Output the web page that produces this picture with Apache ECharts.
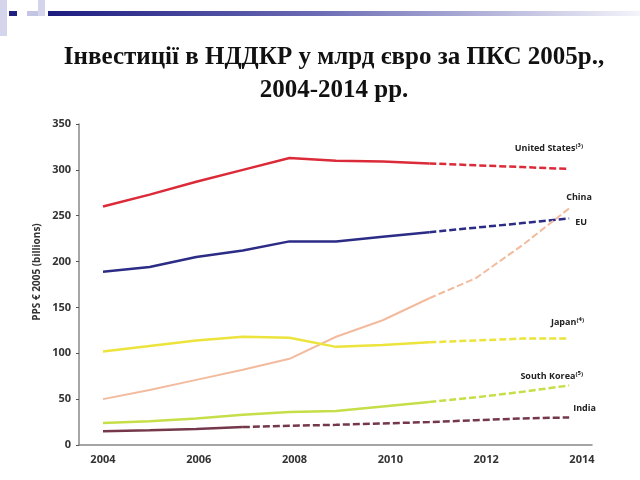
<!DOCTYPE html>
<html>
<head>
<meta charset="utf-8">
<script src="https://cdn.jsdelivr.net/npm/echarts@6/dist/echarts.min.js"></script>
<style>html,body{margin:0;padding:0;background:#fff}#c{width:640px;height:480px}</style>
</head>
<body>
<div id="c"></div>
<script>
const years = [2004, 2005, 2006, 2007, 2008, 2009, 2010, 2011, 2012, 2013, 2014];
const xTickLabels = [2004, 2006, 2008, 2010, 2012, 2014];
const unitedStates = [260, 273, 287, 300, 313, 310, 309, 307, 305, 303, 301];
const eu = [189, 194, 205, 212, 222, 222, 227, 232, 237, 242, 247];
const china = [50, 60, 71, 82, 94, 118, 136, 160, 182, 218, 258];
const japan = [102, 108, 114, 118, 117, 107, 109, 112, 114, 116, 116];
const southKorea = [24, 26, 29, 33, 36, 37, 42, 47, 52, 58, 65];
const india = [15, 16, 17.5, 19.5, 21, 22, 23.5, 25, 27, 29, 30];
const seriesNames = ['United States⁽³⁾', 'EU', 'China', 'Japan⁽⁴⁾', 'South Korea⁽⁵⁾', 'India'];

const defs = [
  {name: seriesNames[0], data: unitedStates, brk: 7, color: '#db2a38', w: 2.5, off: [14, -21], align: 'right'},
  {name: seriesNames[1], data: eu, brk: 7, color: '#2c2c86', w: 2.5, off: [6, 4], align: 'left'},
  {name: seriesNames[2], data: china, brk: 7, color: '#f3bb9e', w: 2, off: [-3, -11], align: 'left'},
  {name: seriesNames[3], data: japan, brk: 7, color: '#ece43c', w: 2.5, off: [15, -16], align: 'right'},
  {name: seriesNames[4], data: southKorea, brk: 7, color: '#c6df48', w: 2.5, off: [14, -9], align: 'right'},
  {name: seriesNames[5], data: india, brk: 3, color: '#74384a', w: 2.5, off: [4, -9], align: 'left'}
];

const series = [];
defs.forEach(d => {
  const solid = [], dashed = [];
  years.forEach((y, i) => {
    if (i <= d.brk) solid.push([y, d.data[i]]);
    if (i >= d.brk) dashed.push([y, d.data[i]]);
  });
  series.push({type: 'line', xAxisIndex: 1, data: solid, symbol: 'none', silent: true,
    lineStyle: {color: d.color, width: d.w}, z: 3});
  series.push({type: 'line', xAxisIndex: 1, data: dashed, symbol: 'none', silent: true,
    lineStyle: {color: d.color, width: d.w, type: [7, 3]}, z: 3,
    endLabel: {show: true, formatter: d.name, distance: 0, offset: d.off, align: d.align,
      verticalAlign: 'middle', color: '#222', fontFamily: 'Open Sans', fontWeight: 'bold', fontSize: 9}});
});

const chart = echarts.init(document.getElementById('c'), null, {renderer: 'canvas'});
chart.setOption({
  animation: false,
  backgroundColor: '#fff',
  title: {
    text: 'Інвестиції в НДДКР у млрд євро за ПКС 2005р.,\n2004-2014 рр.',
    left: 329, top: 36, textAlign: 'center',
    textStyle: {fontFamily: 'Liberation Serif', fontWeight: 'bold', fontSize: 25, lineHeight: 33, color: '#111'}
  },
  graphic: [
    {type: 'rect', shape: {x: 0, y: 0, width: 7, height: 36}, style: {fill: '#d4d4ec'}},
    {type: 'rect', shape: {x: 38, y: 0, width: 7, height: 16}, style: {fill: '#d4d4ec'}},
    {type: 'rect', shape: {x: 9, y: 11, width: 8, height: 5}, style: {fill: '#202080'}},
    {type: 'rect', shape: {x: 27, y: 11, width: 11, height: 5}, style: {fill: '#c4c4e4'}},
    {type: 'rect', shape: {x: 48, y: 11, width: 592, height: 5},
      style: {fill: new echarts.graphic.LinearGradient(0, 0, 1, 0, [
        {offset: 0, color: '#1c1c80'}, {offset: 0.45, color: '#6a6ab4'}, {offset: 1, color: '#f4f4fb'}])}},
    {type: 'text', x: 37, y: 272, rotation: Math.PI / 2, style: {
      text: 'PPS € 2005 (billions)', fill: '#333', font: 'bold 10px "Open Sans"', align: 'center', verticalAlign: 'middle'}}
  ],
  grid: {left: 79, right: 48, top: 124, bottom: 35},
  xAxis: [
    {type: 'value', min: 2003.5, max: 2014.21,
      axisLine: {show: true, lineStyle: {color: '#888', width: 1.5}},
      axisTick: {show: false}, splitLine: {show: false},
      axisLabel: {customValues: xTickLabels, color: '#333', fontFamily: 'Open Sans', fontWeight: 'bold', fontSize: 11, margin: 9,
        formatter: v => String(v)}},
    {type: 'value', min: 2003.485, max: 2014.49, show: false, splitLine: {show: false}}
  ],
  yAxis: {type: 'value', min: 0, max: 350, interval: 50,
    axisLine: {show: true, lineStyle: {color: '#888', width: 1.5}},
    axisTick: {show: true, length: 3, lineStyle: {color: '#555'}},
    splitLine: {show: false},
    axisLabel: {color: '#333', fontFamily: 'Open Sans', fontWeight: 'bold', fontSize: 11, margin: 8}},
  series: series
});
</script>
</body>
</html>
